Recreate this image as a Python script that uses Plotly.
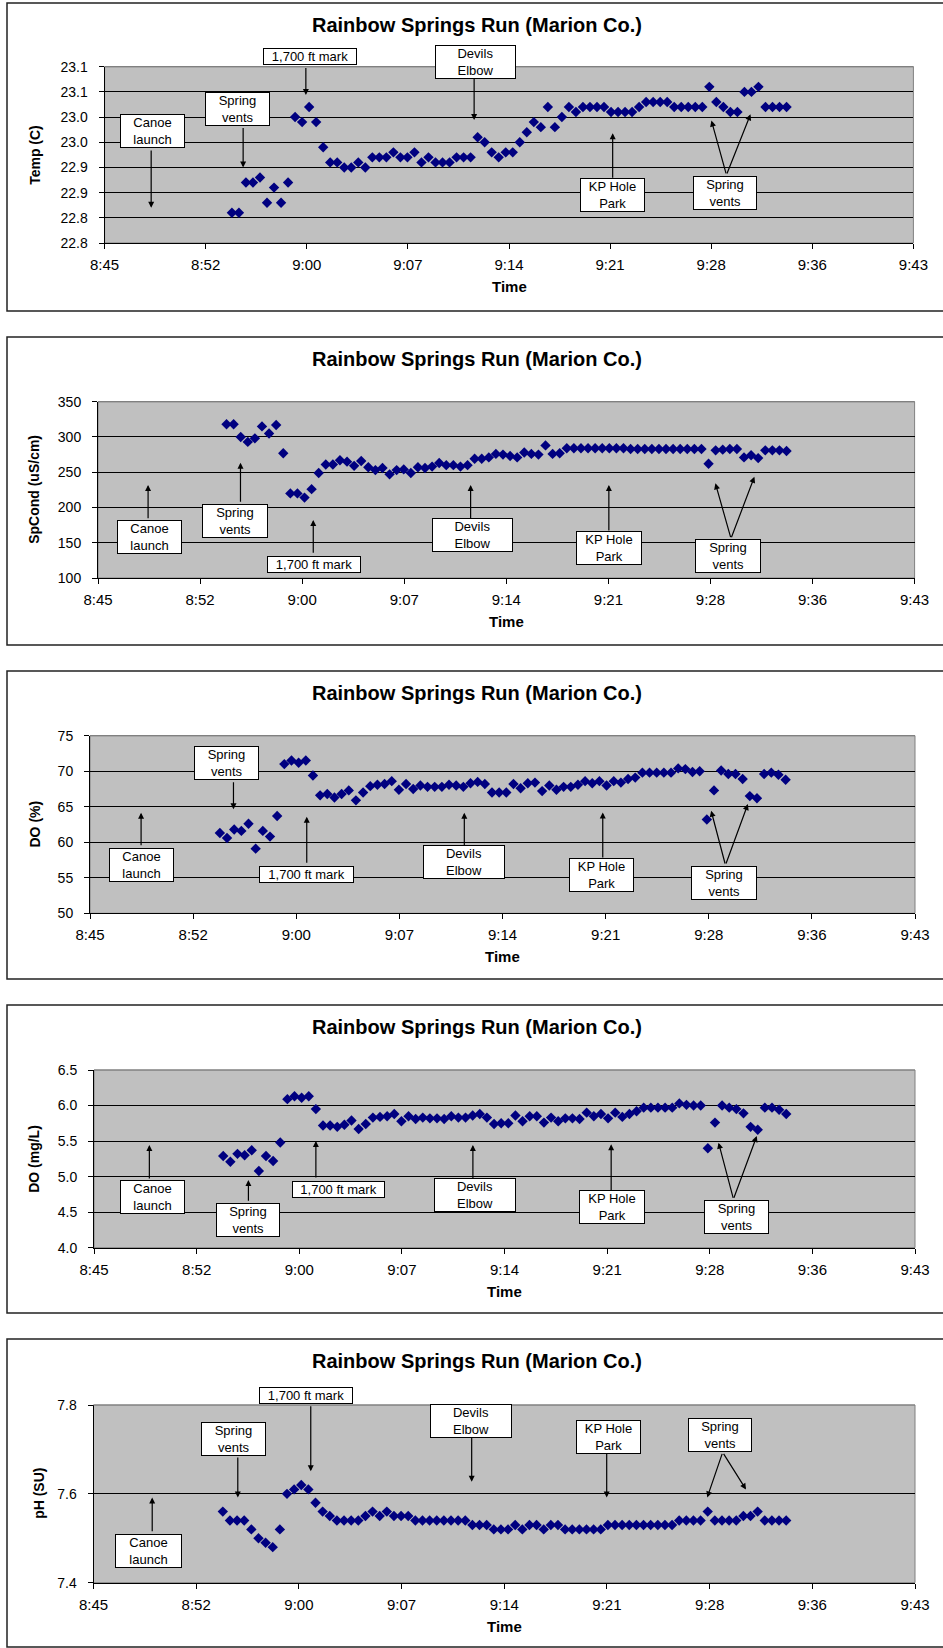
import plotly.graph_objects as go

DAY = "2000-01-01 "

sample_times = [
    "08:54:40", "08:55:10", "08:55:40", "08:56:10", "08:56:40", "08:57:10", "08:57:40", "08:58:10", "08:58:40", "08:59:10",
    "08:59:40", "09:00:10", "09:00:40", "09:01:10", "09:01:40", "09:02:10", "09:02:40", "09:03:10", "09:03:40", "09:04:10",
    "09:04:40", "09:05:10", "09:05:40", "09:06:10", "09:06:40", "09:07:10", "09:07:40", "09:08:10", "09:08:40", "09:09:10",
    "09:09:40", "09:10:10", "09:10:40", "09:11:10", "09:11:40", "09:12:10", "09:12:40", "09:13:10", "09:13:40", "09:14:10",
    "09:14:40", "09:15:10", "09:15:40", "09:16:10", "09:16:40", "09:17:10", "09:17:40", "09:18:10", "09:18:40", "09:19:10",
    "09:19:40", "09:20:10", "09:20:40", "09:21:10", "09:21:40", "09:22:10", "09:22:40", "09:23:10", "09:23:40", "09:24:10",
    "09:24:40", "09:25:10", "09:25:40", "09:26:10", "09:26:40", "09:27:10", "09:27:40", "09:28:10", "09:28:40", "09:29:10",
    "09:29:40", "09:30:10", "09:30:40", "09:31:10", "09:31:40", "09:32:10", "09:32:40", "09:33:10", "09:33:40", "09:34:10",
]

temp_c = [
    22.81, 22.81, 22.87, 22.87, 22.88, 22.83, 22.86, 22.83, 22.87,
    23.00, 22.99, 23.02, 22.99, 22.94, 22.91, 22.91, 22.90, 22.90, 22.91, 22.90,
    22.92, 22.92, 22.92, 22.93, 22.92, 22.92, 22.93, 22.91, 22.92, 22.91,
    22.91, 22.91, 22.92, 22.92, 22.92, 22.96, 22.95, 22.93, 22.92, 22.93, 22.93, 22.95, 22.97,
    22.99, 22.98, 23.02, 22.98, 23.00, 23.02, 23.01, 23.02, 23.02, 23.02,
    23.02, 23.01, 23.01, 23.01, 23.01, 23.02, 23.03, 23.03, 23.03, 23.03,
    23.02, 23.02, 23.02, 23.02, 23.02, 23.06, 23.03, 23.02, 23.01, 23.01,
    23.05, 23.05, 23.06, 23.02, 23.02, 23.02, 23.02,
]

spcond = [
    318, 318, 300, 293, 298, 315, 305, 317, 277,
    220, 220, 214, 226,
    249, 261, 261, 267, 265, 259, 266,
    257, 253, 256, 247, 253, 254, 249, 257, 256, 258,
    263, 260, 260, 258, 260, 269, 269, 271, 276, 275, 273, 271, 278,
    276, 275, 288, 276, 277, 284,
    284, 284, 284, 284, 284, 284, 284, 284,
    283, 283, 283, 283, 283, 283, 283, 283, 283, 283, 283,
    262,
    281, 282, 283, 283, 271, 274, 270, 281, 281, 281, 280,
]

do_pct = [
    61.3, 60.6, 61.8, 61.6, 62.6, 59.1, 61.6, 60.8, 63.7,
    71.0, 71.5, 71.2, 71.5, 69.4,
    66.6, 66.8, 66.3, 66.8, 67.3, 65.9, 67.0, 67.9, 68.1, 68.2, 68.6,
    67.4, 68.2, 67.5, 68.0, 67.8, 67.8, 67.8, 68.1, 68.0, 67.8,
    68.3, 68.5, 68.2, 67.0, 67.0, 67.0, 68.2, 67.6, 68.3,
    68.4, 67.2, 68.0, 67.4, 67.8, 67.8, 68.1, 68.6, 68.3, 68.6,
    68.0, 68.6, 68.4, 68.9, 69.1, 69.8, 69.8, 69.8, 69.8, 69.8,
    70.4, 70.3, 69.9, 70.0, 63.2, 67.3, 70.1, 69.6, 69.6, 68.9,
    66.5, 66.2, 69.6, 69.8, 69.5, 68.8,
]

do_mgl = [
    5.29, 5.21, 5.32, 5.30, 5.37, 5.08, 5.29, 5.22, 5.48,
    6.09, 6.13, 6.11, 6.13, 5.95,
    5.72, 5.72, 5.70, 5.73, 5.79, 5.67, 5.74, 5.83, 5.84, 5.85, 5.88,
    5.78, 5.85, 5.81, 5.83, 5.82, 5.82, 5.81, 5.85, 5.83, 5.83,
    5.86, 5.88, 5.83, 5.74, 5.75, 5.75, 5.86, 5.78, 5.85,
    5.85, 5.76, 5.83, 5.78, 5.82, 5.82, 5.81, 5.90, 5.85, 5.88,
    5.82, 5.90, 5.84, 5.88, 5.92, 5.97, 5.97, 5.97, 5.97, 5.97,
    6.03, 6.01, 6.00, 6.00, 5.40, 5.76, 6.00, 5.97, 5.95, 5.89,
    5.70, 5.66, 5.97, 5.97, 5.94, 5.88,
]

ph_su = [
    7.56, 7.54, 7.54, 7.54, 7.52, 7.50, 7.49, 7.48, 7.52,
    7.60, 7.61, 7.62, 7.61, 7.58,
    7.56, 7.55, 7.54, 7.54, 7.54, 7.54, 7.55, 7.56, 7.55, 7.56, 7.55, 7.55, 7.55,
    7.54, 7.54, 7.54, 7.54, 7.54, 7.54, 7.54, 7.54,
    7.53, 7.53, 7.53, 7.52, 7.52, 7.52, 7.53, 7.52, 7.53,
    7.53, 7.52, 7.53, 7.53, 7.52, 7.52, 7.52, 7.52, 7.52, 7.52, 7.53,
    7.53, 7.53, 7.53, 7.53, 7.53, 7.53, 7.53, 7.53, 7.53,
    7.54, 7.54, 7.54, 7.54,
    7.56,
    7.54, 7.54, 7.54, 7.54,
    7.55, 7.55, 7.56,
    7.54, 7.54, 7.54, 7.54,
]

x_range_times = ["08:45:36", "09:43:12"]
x_tick_times = ["08:45:36", "08:52:48", "09:00:00", "09:07:12", "09:14:24",
                "09:21:36", "09:28:48", "09:36:00", "09:43:12"]

chart_title = "Rainbow Springs Run (Marion Co.)"
x_title = "Time"
y_titles = ["Temp (C)", "SpCond (uS/cm)", "DO (%)", "DO (mg/L)", "pH (SU)"]

temp_ticks = [22.75, 22.80, 22.85, 22.90, 22.95, 23.00, 23.05, 23.10]
temp_ticktext = ["22.8", "22.8", "22.9", "22.9", "23.0", "23.0", "23.1", "23.1"]
spcond_ticks = [100, 150, 200, 250, 300, 350]
spcond_ticktext = ["100", "150", "200", "250", "300", "350"]
do_pct_ticks = [50, 55, 60, 65, 70, 75]
do_pct_ticktext = ["50", "55", "60", "65", "70", "75"]
do_mgl_ticks = [4.0, 4.5, 5.0, 5.5, 6.0, 6.5]
do_mgl_ticktext = ["4.0", "4.5", "5.0", "5.5", "6.0", "6.5"]
ph_ticks = [7.4, 7.6, 7.8]
ph_ticktext = ["7.4", "7.6", "7.8"]

note_labels = ["Canoe<br>launch", "Spring<br>vents", "1,700 ft mark",
               "Devils<br>Elbow", "KP Hole<br>Park", "Spring<br>vents"]

temp_note_times = ["08:48:55", "08:55:28", "08:59:56", "09:11:55", "09:21:47", "09:28:49"]
temp_note_values = [22.82, 22.90, 23.044, 22.994, 22.968, 22.993]
temp_note_extra = ("09:31:36", 23.0055)

spcond_note_times = ["08:49:08", "08:55:39", "09:00:47", "09:11:53", "09:21:38", "09:29:09"]
spcond_note_values = [231.9, 263.5, 182.3, 231.9, 231.9, 234.3]
spcond_note_extra = ("09:31:54", 243.6)

do_pct_note_times = ["08:49:10", "08:55:37", "09:00:44", "09:11:44", "09:21:24", "09:28:58"]
do_pct_note_values = [64.16, 64.64, 63.6, 64.16, 64.2, 64.44]
do_pct_note_extra = ("09:31:32", 65.38)

do_mgl_note_times = ["08:49:29", "08:56:26", "09:01:10", "09:12:11", "09:21:53", "09:29:25"]
do_mgl_note_values = [5.445, 4.952, 5.501, 5.445, 5.455, 5.477]
do_mgl_note_extra = ("09:32:06", 5.571)

ph_note_times = ["08:49:43", "08:55:43", "09:00:50", "09:12:07", "09:21:35", "09:28:38"]
ph_note_values = [7.592, 7.592, 7.651, 7.627, 7.592, 7.592]
ph_note_extra = ("09:31:21", 7.610)

# ---------------- LAYOUT / STYLE ----------------
W, H = 943, 1648
FONT = "Liberation Sans, Arial, sans-serif"
MARKER_COLOR = "#000080"
PLOT_BG = "#C0C0C0"
EDGE_GRAY = "#808080"


def fx(px):
    return px / W


def fy(py):
    return 1 - py / H


panels = [
    dict(y=temp_c, yrange=[22.75, 23.10], tv=temp_ticks, tt=temp_ticktext,
         notes=(temp_note_times, temp_note_values, temp_note_extra)),
    dict(y=spcond, yrange=[100, 350], tv=spcond_ticks, tt=spcond_ticktext,
         notes=(spcond_note_times, spcond_note_values, spcond_note_extra)),
    dict(y=do_pct, yrange=[50, 75], tv=do_pct_ticks, tt=do_pct_ticktext,
         notes=(do_pct_note_times, do_pct_note_values, do_pct_note_extra)),
    dict(y=do_mgl, yrange=[4.0, 6.5], tv=do_mgl_ticks, tt=do_mgl_ticktext,
         notes=(do_mgl_note_times, do_mgl_note_values, do_mgl_note_extra)),
    dict(y=ph_su, yrange=[7.4, 7.8], tv=ph_ticks, tt=ph_ticktext,
         notes=(ph_note_times, ph_note_values, ph_note_extra)),
]

geometry = [
    dict(frame=(3, 311), px=(104.6, 913.4), py=(66.7, 243.0), ytx=35),
    dict(frame=(337, 645), px=(98.0, 914.6), py=(401.7, 578.0), ytx=34),
    dict(frame=(671, 979), px=(90.0, 915.0), py=(735.7, 913.3), ytx=34),
    dict(frame=(1005, 1313), px=(94.0, 915.0), py=(1070.0, 1247.7), ytx=34),
    dict(frame=(1339, 1647), px=(93.5, 915.0), py=(1405.0, 1582.7), ytx=39),
]

note_style = [
    dict(w=[65, 65, 94, 81, 65, 64],
         box=[(1.3, -76.3), (-5.5, -58.7), (3.8, -38.3), (1.4, -57.7), (-0.5, 61.7), (13.5, 72.2)],
         tail=[(0, -58.7), (0, -41), (0, -28.3), (0, -42.7), (0, 46), (15, 54.3)],
         tail2=(-24.1, 60.7)),
    dict(w=[65, 66, 94, 81, 66, 66],
         box=[(1.2, 52.3), (-5.7, 58.1), (1.2, 44.3), (1.6, 49.8), (0.5, 62.7), (12.9, 73.2)],
         tail=[(0, 34.7), (0, 40.6), (0, 34.3), (0, 34.7), (0, 47), (15.6, 55.4)],
         tail2=(-23.5, 62)),
    dict(w=[65, 65, 95, 82, 65, 66],
         box=[(0.7, 51.8), (-6.5, -46.5), (0.1, 58), (-0.1, 49), (-1, 62.2), (13.2, 72.1)],
         tail=[(0, 34), (0, -28.6), (0, 47.6), (0, 34), (0, 46.7), (14.3, 54.3)],
         tail2=(-22.4, 61)),
    dict(w=[65, 64, 93, 82, 66, 65],
         box=[(3.2, 52.5), (-0.3, 40), (22.6, 48.2), (2.5, 50), (1.2, 63.2), (17.5, 74.5)],
         tail=[(0, 35), (0, 22.3), (0, 38), (0, 35), (0, 47.4), (15, 56.6)],
         tail2=(-23.4, 63.3)),
    dict(w=[67, 65, 94, 82, 65, 64],
         box=[(-3.3, 53.2), (-4.2, -58.8), (-4.3, -76), (-0.9, -60.9), (1.7, -60.8), (13, -62.8)],
         tail=[(0, 35.4), (0, -41.3), (0, -66.5), (0, -46.2), (0, -45), (15.4, -45)],
         tail2=(-23.3, -37)),
]

fig = go.Figure()
layout = dict(
    template="none",
    width=W, height=H, autosize=False,
    margin=dict(l=0, r=0, t=0, b=0, pad=0, autoexpand=False),
    paper_bgcolor="white",
    plot_bgcolor=PLOT_BG,
    font=dict(family=FONT, color="black"),
    showlegend=False,
)
shapes = []
annotations = []

xs = [DAY + t for t in sample_times]

for i, (p, g, st) in enumerate(zip(panels, geometry, note_style)):
    n = "" if i == 0 else str(i + 1)
    xa, ya = "x" + n, "y" + n
    fig.add_trace(go.Scatter(
        x=xs, y=p["y"], mode="markers", xaxis=xa, yaxis=ya,
        marker=dict(symbol="diamond", size=8, color=MARKER_COLOR, line=dict(width=0)),
        hoverinfo="skip", showlegend=False,
    ))
    x0, x1 = g["px"]
    y0, y1 = g["py"]
    layout["xaxis" + n] = dict(
        domain=[fx(x0), fx(x1)], anchor=ya, type="date", automargin=False,
        range=[DAY + x_range_times[0], DAY + x_range_times[1]],
        tickmode="array", tickvals=[DAY + t for t in x_tick_times],
        tickformat="%-H:%M",
        ticks="outside", ticklen=5, tickcolor="black", tickwidth=1,
        showline=True, linecolor="black", linewidth=1,
        showgrid=False, zeroline=False,
        tickfont=dict(size=15, color="black", family=FONT),
        ticklabelstandoff=3,
    )
    layout["yaxis" + n] = dict(
        domain=[fy(y1), fy(y0)], anchor=xa, automargin=False,
        range=p["yrange"], tickmode="array", tickvals=p["tv"], ticktext=p["tt"],
        ticks="outside", ticklen=5, tickcolor="black", tickwidth=1,
        showline=True, linecolor="black", linewidth=1,
        showgrid=True, gridcolor="black", gridwidth=1, zeroline=False,
        tickfont=dict(size=14, color="black", family=FONT),
        ticklabelstandoff=8,
    )
    # gray outline of the plot area (top and right edges are gray in the original)
    shapes.append(dict(type="rect", xref=xa + " domain", yref=ya + " domain",
                       x0=0, x1=1, y0=0, y1=1, line=dict(color=EDGE_GRAY, width=1),
                       layer="below"))
    shapes.append(dict(type="line", xref=xa + " domain", yref=ya + " domain",
                       x0=0, x1=1, y0=1, y1=1, line=dict(color=EDGE_GRAY, width=1.2),
                       layer="above"))
    ft, fb = g["frame"]
    shapes.append(dict(type="rect", xref="paper", yref="paper",
                       x0=fx(7), x1=1.05, y0=fy(fb), y1=fy(ft),
                       line=dict(color="#222222", width=1.5)))
    annotations.append(dict(xref="paper", yref="paper", x=fx(477), y=fy(ft + 22),
                            text="<b>" + chart_title + "</b>", showarrow=False,
                            font=dict(size=20, family=FONT, color="black"),
                            xanchor="center", yanchor="middle"))
    annotations.append(dict(xref="paper", yref="paper", x=fx((x0 + x1) / 2),
                            y=fy(y1 + 43.5),
                            text="<b>" + x_title + "</b>", showarrow=False,
                            font=dict(size=15, family=FONT, color="black"),
                            xanchor="center", yanchor="middle"))
    annotations.append(dict(xref="paper", yref="paper", x=fx(g["ytx"]),
                            y=fy((y0 + y1) / 2), textangle=-90,
                            text="<b>" + y_titles[i] + "</b>", showarrow=False,
                            font=dict(size=14, family=FONT, color="black"),
                            xanchor="center", yanchor="middle"))
    times, vals, extra = p["notes"]
    arrow_kw = dict(showarrow=True, arrowhead=2, arrowsize=1, arrowwidth=1.2,
                    arrowcolor="black", standoff=0, startstandoff=0, text="",
                    xref=xa, yref=ya, axref="pixel", ayref="pixel")
    for j, label in enumerate(note_labels):
        tx, ty = st["tail"][j]
        annotations.append(dict(x=DAY + times[j], y=vals[j], ax=tx, ay=ty, **arrow_kw))
    tx2, ty2 = st["tail2"]
    annotations.append(dict(x=DAY + extra[0], y=extra[1], ax=tx2, ay=ty2, **arrow_kw))
    for j, label in enumerate(note_labels):
        bx, by = st["box"][j]
        annotations.append(dict(
            x=DAY + times[j], y=vals[j], xref=xa, yref=ya,
            text=label, showarrow=False, xshift=bx, yshift=-by,
            xanchor="center", yanchor="middle", align="center",
            width=st["w"][j] - 2, bgcolor="white", bordercolor="black",
            borderwidth=1, borderpad=0,
            font=dict(size=13, family=FONT, color="black"),
        ))

layout["shapes"] = shapes
layout["annotations"] = annotations
fig.update_layout(**layout)

fig.write_html("out.html", config={"responsive": False, "displayModeBar": False})
